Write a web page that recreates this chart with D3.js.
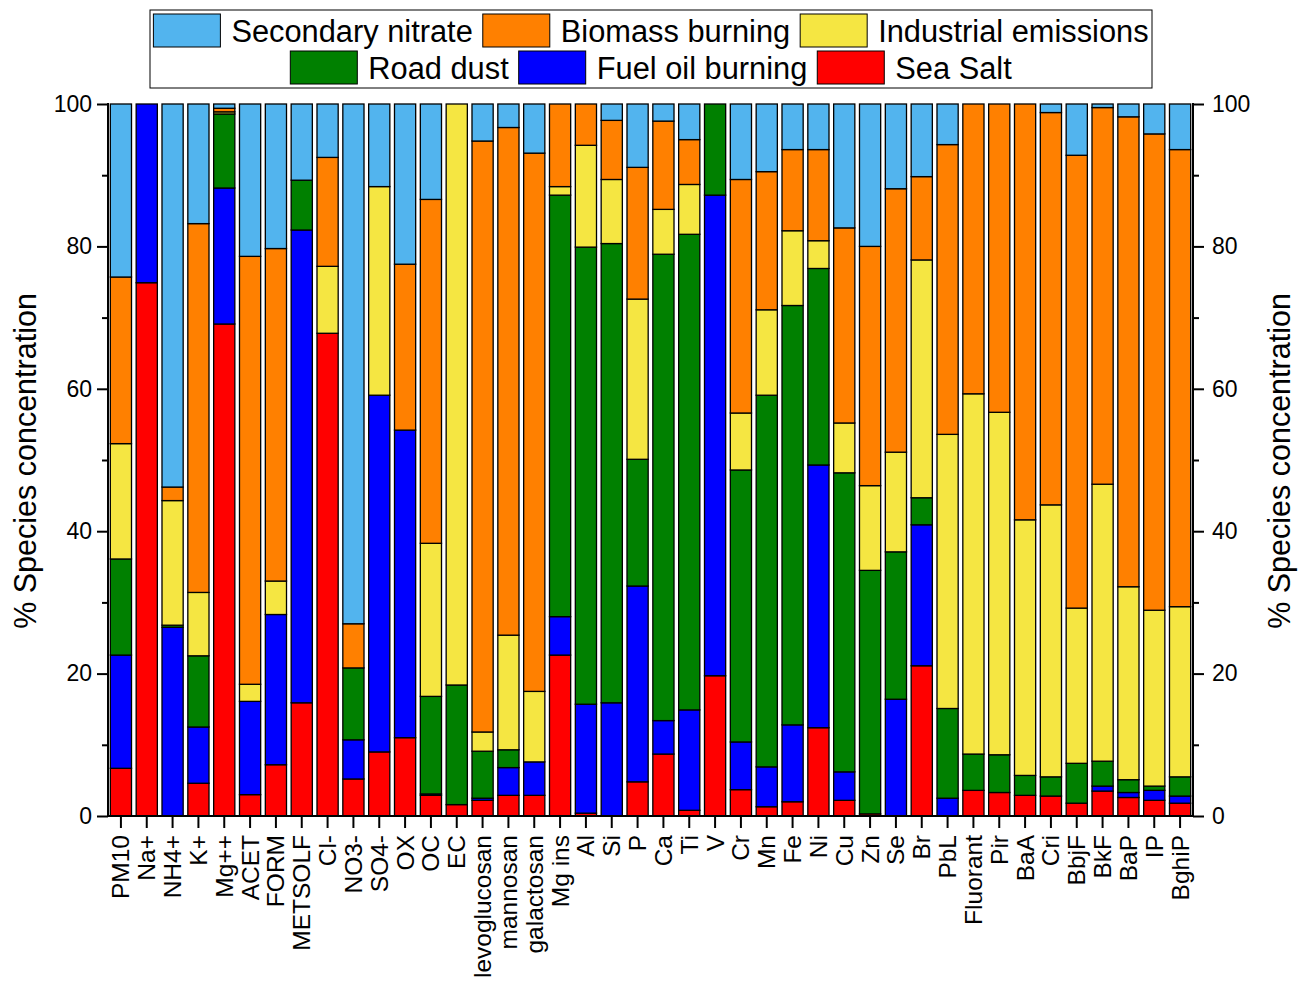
<!DOCTYPE html>
<html>
<head>
<meta charset="utf-8">
<script src="https://cdn.jsdelivr.net/npm/d3@7"></script>
<style>
  html, body { margin: 0; padding: 0; background: #fff; }
  svg { display: block; font-family: "Liberation Sans", Arial, sans-serif; }
</style>
</head>
<body>
<svg id="chart" width="1310" height="982"></svg>
<script>
const categories = ["PM10","Na+","NH4+","K+","Mg++","ACET","FORM","METSOLF","Cl-","NO3-","SO4-","OX","OC","EC",
  "levoglucosan","mannosan","galactosan","Mg ins","Al","Si","P","Ca","Ti","V","Cr","Mn","Fe","Ni","Cu","Zn","Se","Br",
  "PbL","Fluorant","Pir","BaA","Cri","BbjF","BkF","BaP","IP","BghiP"];

const seriesNames = ["Sea Salt","Fuel oil burning","Road dust","Industrial emissions","Biomass burning","Secondary nitrate"];

const seaSalt = [6.7,74.9,0,4.6,69.1,3.0,7.2,15.9,67.8,5.2,9.0,11.0,2.9,1.6,
  2.2,2.9,2.9,22.6,0.4,0,4.8,8.7,0.8,19.7,3.7,1.3,2.0,12.4,2.2,0.3,0,21.1,
  0,3.6,3.3,2.9,2.8,1.8,3.5,2.6,2.2,1.8];
const fuelOil = [15.9,25.1,26.5,7.9,19.1,13.1,21.1,66.4,0,5.5,50.1,43.2,0.2,0,
  0.3,3.9,4.7,5.4,15.3,15.9,27.5,4.7,14.1,67.5,6.7,5.6,10.8,36.9,4.0,0,16.4,19.8,
  2.5,0,0,0,0,0,0.7,0.7,1.4,1.0];
const roadDust = [13.5,0,0.3,10.0,10.4,0,0,7.0,0,10.1,0,0,13.7,16.8,
  6.6,2.5,0,59.2,64.2,64.5,17.8,65.5,66.8,12.8,38.2,52.2,58.9,27.6,42.0,34.2,20.7,3.8,
  12.6,5.1,5.3,2.8,2.7,5.6,3.5,1.8,0.6,2.7];
const industrial = [16.2,0,17.5,8.9,0.3,2.4,4.7,0,9.4,0,29.3,0,21.5,81.6,
  2.7,16.1,9.9,1.2,14.3,9.0,22.5,6.3,7.0,0,8.0,12.0,10.5,3.9,7.0,11.9,14.0,33.4,
  38.5,50.6,48.1,35.9,38.2,21.8,38.9,27.1,24.7,23.9];
const biomass = [23.4,0,1.9,51.8,0.5,60.1,46.7,0,15.3,6.2,0,23.3,48.3,0,
  83.0,71.3,75.6,11.6,5.8,8.3,18.5,12.4,6.3,0,32.8,19.4,11.4,12.8,27.4,33.6,37.0,11.7,
  40.7,40.7,43.3,58.4,55.1,63.6,52.9,66.0,66.9,64.2];
const secNitrate = [24.3,0,53.8,16.8,0.6,21.4,20.3,10.7,7.5,73.0,11.6,22.5,13.4,0,
  5.2,3.3,6.9,0,0,2.3,8.9,2.4,5.0,0,10.6,9.5,6.4,6.4,17.4,20.0,11.9,10.2,
  5.7,0,0,0,1.2,7.2,0.5,1.8,4.2,6.4];

const yTicks = [0,20,40,60,80,100];
const yMinorTicks = [10,30,50,70,90];
const colors = ["#ff0000","#0000ff","#008000","#f5e642","#ff8000","#52b4ee"];

(function () {
const seriesValues = [seaSalt, fuelOil, roadDust, industrial, biomass, secNitrate];
const table = categories.map((c, i) => {
  const row = { cat: c };
  seriesNames.forEach((s, k) => row[s] = seriesValues[k][i]);
  return row;
});

const svg = d3.select("#chart");
const pLeft = 108, pRight = 1193, pTop = 104, pBottom = 816;

const x = d3.scaleBand().domain(categories).range([pLeft, pRight]).paddingInner(0.18).paddingOuter(0.09);
const y = d3.scaleLinear().domain([0, 100]).range([pBottom, pTop]);

const stacked = d3.stack().keys(seriesNames)(table);

const g = svg.append("g");
stacked.forEach((layer, k) => {
  g.append("g").selectAll("rect")
    .data(layer.filter(d => d[1] - d[0] > 0))
    .join("rect")
    .attr("x", d => x(d.data.cat))
    .attr("width", x.bandwidth())
    .attr("y", d => y(d[1]))
    .attr("height", d => y(d[0]) - y(d[1]))
    .attr("fill", colors[k])
    .attr("stroke", "#000")
    .attr("stroke-width", 1.3);
});

// Axes
const styleTicks = a => {
  a.select(".domain").remove();
  a.selectAll(".tick line").attr("stroke", "#000").attr("stroke-width", 2);
  a.selectAll(".tick text").attr("font-size", 23).attr("font-family", "Liberation Sans, Arial, sans-serif").attr("fill", "#000");
};
svg.append("g").attr("transform", `translate(${pLeft},0)`)
  .call(d3.axisLeft(y).tickValues(yTicks).tickSize(11).tickPadding(5)).call(styleTicks);
svg.append("g").attr("transform", `translate(${pRight},0)`)
  .call(d3.axisRight(y).tickValues(yTicks).tickSize(11).tickPadding(8)).call(styleTicks);
svg.append("g").attr("transform", `translate(${pLeft},0)`)
  .call(d3.axisLeft(y).tickValues(yMinorTicks).tickSize(6).tickFormat("")).call(styleTicks);
svg.append("g").attr("transform", `translate(${pRight},0)`)
  .call(d3.axisRight(y).tickValues(yMinorTicks).tickSize(6).tickFormat("")).call(styleTicks);

svg.append("line").attr("x1", pLeft).attr("x2", pLeft).attr("y1", pTop - 1).attr("y2", pBottom + 1).attr("stroke", "#000").attr("stroke-width", 2);
svg.append("line").attr("x1", pRight).attr("x2", pRight).attr("y1", pTop - 1).attr("y2", pBottom + 1).attr("stroke", "#000").attr("stroke-width", 2);

const gb = svg.append("g").attr("transform", `translate(0,${pBottom})`).call(d3.axisBottom(x).tickSize(12).tickSizeOuter(0));
gb.select(".domain").remove();
gb.selectAll(".tick line").attr("stroke", "#000").attr("stroke-width", 2);
gb.selectAll(".tick text")
  .attr("font-size", 24.5).attr("font-family", "Liberation Sans, Arial, sans-serif").attr("fill", "#000")
  .attr("text-anchor", "end")
  .attr("transform", "rotate(-90)")
  .attr("x", -19).attr("y", 0).attr("dy", "0.35em");
svg.append("line").attr("x1", pLeft - 1).attr("x2", pRight + 1).attr("y1", pBottom).attr("y2", pBottom).attr("stroke", "#000").attr("stroke-width", 2);

// Axis titles
svg.append("text").attr("transform", `translate(36,${(pTop + pBottom) / 2 + 1}) rotate(-90)`)
  .attr("text-anchor", "middle").attr("font-size", 30.5).text("% Species concentration");
svg.append("text").attr("transform", `translate(1290,${(pTop + pBottom) / 2 + 1}) rotate(-90)`)
  .attr("text-anchor", "middle").attr("font-size", 30.5).text("% Species concentration");

// Legend
const legendOrder = [["Secondary nitrate","Biomass burning","Industrial emissions"],["Road dust","Fuel oil burning","Sea Salt"]];
const lg = svg.append("g");
lg.append("rect").attr("x", 150).attr("y", 10).attr("width", 1002).attr("height", 78)
  .attr("fill", "#fff").attr("stroke", "#000").attr("stroke-width", 1);
const sw = 67, sh = 33, gap1 = 11, gap2 = 10, fs = 30.8;
legendOrder.forEach((row, r) => {
  const rowG = lg.append("g");
  let cx = 0;
  const cy = r === 0 ? 14 : 51;
  row.forEach(name => {
    const k = seriesNames.indexOf(name);
    rowG.append("rect").attr("x", cx).attr("y", cy).attr("width", sw).attr("height", sh)
      .attr("fill", colors[k]).attr("stroke", "#000").attr("stroke-width", 1);
    const t = rowG.append("text").attr("x", cx + sw + gap1).attr("y", cy + sh / 2).attr("dy", "0.36em")
      .attr("font-size", fs).text(name);
    cx += sw + gap1 + t.node().getComputedTextLength() + gap2;
  });
  const w = cx - gap2;
  rowG.attr("transform", `translate(${651 - w / 2},0)`);
});
})();
</script>
</body>
</html>
